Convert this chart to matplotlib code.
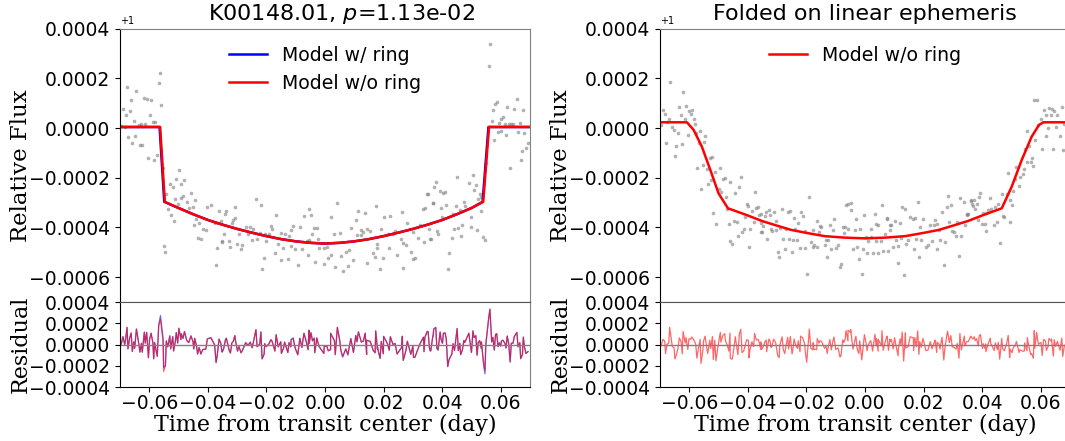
import numpy as np
import matplotlib.pyplot as plt
from matplotlib.ticker import ScalarFormatter

# phase-folded points, (time from transit center [day], flux - 1 [1e-4])
left_pts = [
    (-0.0562, 2.20), (-0.0568, 1.82), (-0.0559, 0.94), (-0.0676, 1.66), (-0.0644, 1.50),
    (-0.0662, 1.13), (-0.0617, 1.21), (-0.0609, 1.18), (-0.0594, 1.11), (-0.0690, 0.78),
    (-0.0667, 0.67), (-0.0681, 0.51), (-0.0599, 0.54), (-0.0653, 0.29), (-0.0636, 0.13),
    (-0.0627, 0.15), (-0.0614, 0.17), (-0.0588, 0.24), (-0.0582, 0.23), (-0.0696, 0.08),
    (-0.0684, 0.05), (-0.0673, -0.37), (-0.0650, -0.32), (-0.0658, -0.62), (-0.0632, -0.67),
    (-0.0624, -0.68), (-0.0573, -1.07), (-0.0603, -1.20), (-0.0585, -1.30), (-0.0553, -1.61),
    (-0.0499, -1.69), (-0.0530, -2.25), (-0.0520, -2.37), (-0.0508, -2.06), (-0.0480, -2.10),
    (-0.0491, -2.25), (-0.0542, -2.66), (-0.0458, -2.62), (-0.0485, -2.72), (-0.0492, -2.80),
    (-0.0511, -2.85), (-0.0503, -3.06), (-0.0472, -2.99), (-0.0445, -2.91), (-0.0537, -3.25),
    (-0.0465, -3.21), (-0.0451, -3.17), (-0.0402, -3.17), (-0.0390, -3.09), (-0.0362, -3.33),
    (-0.0527, -3.49), (-0.0517, -3.74), (-0.0439, -3.65), (-0.0430, -3.84), (-0.0448, -3.90),
    (-0.0417, -4.08), (-0.0407, -4.10), (-0.0377, -3.81), (-0.0352, -4.56), (-0.0435, -4.43),
    (-0.0424, -4.48), (-0.0368, -4.83), (-0.0551, -4.75), (-0.0545, -4.98), (-0.0372, -5.50),
    (-0.0236, -2.85), (-0.0219, -3.11), (-0.0308, -3.19), (-0.0337, -3.34), (-0.0340, -3.47),
    (-0.0313, -3.70), (-0.0318, -3.84), (-0.0306, -3.63), (-0.0356, -3.74), (-0.0167, -3.50),
    (-0.0185, -3.93), (-0.0181, -4.08), (-0.0072, -3.53), (-0.0055, -3.27), (-0.0048, -3.51),
    (-0.0109, -3.93), (-0.0086, -3.98), (-0.0037, -4.02), (-0.0028, -4.01), (-0.0271, -3.97),
    (-0.0255, -3.97), (-0.0245, -4.05), (-0.0346, -4.28), (-0.0294, -4.27), (-0.0263, -4.25),
    (-0.0223, -4.24), (-0.0206, -4.25), (-0.0191, -4.28), (-0.0151, -4.21), (-0.0138, -4.27),
    (-0.0116, -4.09), (-0.0123, -4.35), (-0.0043, -4.27), (-0.0351, -4.59), (-0.0327, -4.54),
    (-0.0299, -4.68), (-0.0283, -4.72), (-0.0249, -4.52), (-0.0232, -4.47), (-0.0201, -4.55),
    (-0.0160, -4.66), (-0.0142, -4.84), (-0.0117, -4.75), (-0.0102, -4.88), (-0.0079, -4.86),
    (-0.0062, -4.56), (-0.0054, -4.51), (-0.0020, -4.84), (-0.0003, -4.82), (-0.0323, -4.78),
    (-0.0287, -4.88), (-0.0208, -5.24), (-0.0171, -5.03), (-0.0149, -5.31), (-0.0127, -5.27),
    (-0.0093, -5.53), (-0.0058, -5.10), (-0.0035, -5.40), (-0.0004, -5.48), (-0.0215, -5.66),
    (-0.0024, -4.48),
    (0.0042, -3.01), (0.0019, -3.58), (0.0173, -3.13), (0.0114, -3.34), (0.0137, -3.42),
    (0.0105, -3.70), (0.0088, -4.01), (0.0032, -4.27), (0.0050, -4.21), (0.0109, -4.29),
    (0.0122, -4.10), (0.0131, -4.17), (0.0142, -4.08), (0.0154, -4.16), (0.0124, -4.29),
    (0.0192, -4.08), (0.0214, -4.28), (0.0239, -4.14), (0.0232, -4.25), (0.0200, -3.58),
    (0.0223, -3.55), (0.0264, -3.39), (0.0281, -3.81), (0.0336, -3.25), (0.0341, -3.23),
    (0.0349, -2.66), (0.0368, -3.03), (0.0324, -3.92), (0.0300, -4.19), (0.0317, -4.44),
    (0.0338, -4.60), (0.0359, -4.45), (0.0261, -4.47), (0.0276, -4.72), (0.0293, -5.00),
    (0.0006, -4.80), (0.0019, -5.12), (0.0011, -5.23), (0.0054, -5.15), (0.0071, -5.00),
    (0.0082, -4.91), (0.0097, -5.31), (0.0078, -5.55), (0.0060, -5.77), (0.0035, -5.58),
    (0.0142, -5.42), (0.0165, -5.02), (0.0171, -5.19), (0.0179, -4.84), (0.0199, -5.22),
    (0.0188, -5.69), (0.0219, -4.83), (0.0246, -5.11), (0.0267, -5.65), (0.0302, -5.26),
    (0.0307, -5.23), (0.0179, -4.66), (0.0265, -4.62),
    (0.0563, 3.37), (0.0559, 2.51), (0.0586, 1.06), (0.0582, 0.97), (0.0573, 0.72),
    (0.0622, 0.84), (0.0655, 1.18), (0.0646, 0.78), (0.0677, 0.74), (0.0607, 0.45),
    (0.0602, 0.35), (0.0595, 0.19), (0.0614, 0.17), (0.0627, 0.16), (0.0636, 0.16),
    (0.0642, 0.17), (0.0665, 0.21), (0.0569, 0.29), (0.0591, -0.16), (0.0600, -0.11),
    (0.0618, -0.28), (0.0659, -0.17), (0.0681, -0.20), (0.0578, -0.48), (0.0693, -0.62),
    (0.0686, -0.80), (0.0674, -0.91), (0.0668, -1.29), (0.0632, -1.60), (0.0549, -1.42),
    (0.0451, -1.96), (0.0505, -1.90), (0.0491, -2.20), (0.0515, -2.29), (0.0509, -2.51),
    (0.0528, -2.67), (0.0534, -2.76), (0.0523, -2.87), (0.0378, -2.17), (0.0371, -2.36),
    (0.0393, -2.55), (0.0410, -2.56), (0.0404, -2.63), (0.0352, -2.67), (0.0369, -3.02),
    (0.0396, -3.22), (0.0414, -3.11), (0.0446, -3.14), (0.0474, -2.98), (0.0477, -3.15),
    (0.0460, -3.30), (0.0437, -3.45), (0.0401, -3.58), (0.0498, -3.58), (0.0533, -3.34),
    (0.0442, -4.06), (0.0455, -4.02), (0.0469, -3.89), (0.0500, -3.97), (0.0519, -4.10),
    (0.0382, -4.16), (0.0386, -4.27), (0.0356, -4.08), (0.0361, -4.45), (0.0433, -4.44),
    (0.0463, -4.35), (0.0541, -4.37), (0.0546, -4.52), (0.0423, -5.04), (0.0419, -5.69),
]

right_pts = [
    (-0.0667, 1.85), (-0.0621, 1.46), (-0.0634, 0.86), (-0.0611, 0.90), (-0.0690, 0.71),
    (-0.0684, 0.56), (-0.0601, 0.68), (-0.0591, 0.71), (-0.0595, 0.55), (-0.0628, 0.51),
    (-0.0614, 0.37), (-0.0670, 0.35), (-0.0676, 0.25), (-0.0585, 0.35), (-0.0582, 0.15),
    (-0.0696, 0.12), (-0.0658, 0.05), (-0.0652, -0.08), (-0.0639, -0.19), (-0.0605, -0.28),
    (-0.0563, -0.12), (-0.0578, -0.21), (-0.0546, -0.32), (-0.0551, -0.58), (-0.0567, -0.62),
    (-0.0681, -0.62), (-0.0644, -0.72), (-0.0624, -0.64), (-0.0649, -1.13), (-0.0530, -1.21),
    (-0.0521, -1.18), (-0.0554, -1.49), (-0.0574, -1.62), (-0.0540, -1.66), (-0.0494, -1.60),
    (-0.0513, -1.78), (-0.0485, -2.04), (-0.0479, -2.00), (-0.0461, -2.17), (-0.0527, -2.10),
    (-0.0537, -2.25), (-0.0424, -1.98), (-0.0560, -2.45), (-0.0500, -2.47), (-0.0492, -2.56),
    (-0.0429, -2.39), (-0.0443, -2.60), (-0.0476, -2.78), (-0.0470, -3.26), (-0.0377, -2.58),
    (-0.0404, -3.05), (-0.0398, -3.13), (-0.0386, -3.33), (-0.0371, -3.22), (-0.0365, -3.19),
    (-0.0518, -3.43), (-0.0509, -3.85), (-0.0465, -3.86), (-0.0448, -3.74), (-0.0437, -3.78),
    (-0.0361, -3.51), (-0.0354, -3.81), (-0.0414, -4.06), (-0.0393, -4.05), (-0.0420, -4.20),
    (-0.0434, -4.33), (-0.0380, -3.79), (-0.0409, -3.57), (-0.0460, -4.56), (-0.0453, -4.67),
    (-0.0396, -4.78), (-0.0356, -4.18),
    (-0.0190, -2.79), (-0.0356, -3.47), (-0.0342, -3.53), (-0.0337, -3.37), (-0.0324, -3.51),
    (-0.0312, -3.38), (-0.0328, -3.31), (-0.0347, -3.93), (-0.0353, -4.19), (-0.0336, -4.48),
    (-0.0322, -4.06), (-0.0319, -4.14), (-0.0305, -3.74), (-0.0303, -4.10), (-0.0283, -3.27),
    (-0.0264, -3.38), (-0.0255, -3.33), (-0.0242, -3.61), (-0.0228, -3.81), (-0.0220, -3.38),
    (-0.0213, -3.54), (-0.0291, -4.04), (-0.0269, -4.05), (-0.0238, -4.08), (-0.0206, -4.16),
    (-0.0279, -4.48), (-0.0261, -4.48), (-0.0246, -4.49), (-0.0231, -4.51), (-0.0298, -4.98),
    (-0.0293, -5.19), (-0.0274, -4.88), (-0.0249, -4.99), (-0.0222, -4.84), (-0.0204, -4.84),
    (-0.0185, -4.60), (-0.0178, -4.78), (-0.0165, -4.78), (-0.0174, -4.71), (-0.0163, -3.74),
    (-0.0177, -4.09), (-0.0157, -4.18), (-0.0149, -4.00), (-0.0154, -3.96), (-0.0133, -4.52),
    (-0.0125, -4.52), (-0.0138, -4.70), (-0.0120, -3.90), (-0.0106, -3.67), (-0.0110, -4.12),
    (-0.0129, -5.20), (-0.0115, -4.87), (-0.0100, -4.84), (-0.0092, -4.71), (-0.0085, -5.58),
    (-0.0082, -5.47), (-0.0199, -5.89), (-0.0076, -3.97), (-0.0068, -3.97), (-0.0058, -4.08),
    (-0.0073, -4.23), (-0.0065, -3.11), (-0.0058, -3.06), (-0.0049, -3.02), (-0.0049, -3.30),
    (-0.0031, -3.65), (-0.0035, -4.10), (-0.0018, -4.08), (-0.0002, -3.51), (-0.0041, -4.86),
    (-0.0027, -4.79), (-0.0021, -5.28), (-0.0007, -4.86), (-0.0011, -5.88),
    (0.0019, -4.06), (0.0034, -3.46), (0.0045, -3.92), (0.0039, -3.88), (0.0058, -3.11),
    (0.0074, -3.65), (0.0076, -3.62), (0.0085, -3.89), (0.0090, -3.92), (0.0101, -3.74),
    (0.0120, -3.82), (0.0127, -3.18), (0.0138, -3.25), (0.0154, -3.58), (0.0165, -3.67),
    (0.0170, -3.63), (0.0180, -2.98), (0.0198, -3.65), (0.0187, -3.97), (0.0239, -3.70),
    (0.0246, -3.88), (0.0254, -4.10), (0.0237, -3.90), (0.0223, -3.90), (0.0263, -3.37),
    (0.0282, -2.74), (0.0293, -3.11), (0.0279, -3.17), (0.0288, -3.79), (0.0298, -4.16),
    (0.0304, -4.17), (0.0311, -4.33), (0.0329, -4.33), (0.0315, -3.77), (0.0324, -2.80),
    (0.0339, -2.99), (0.0349, -3.46), (0.0361, -2.91), (0.0364, -3.05), (0.0004, -4.37),
    (0.0010, -4.55), (0.0022, -4.37), (0.0039, -4.55), (0.0056, -4.54), (0.0068, -4.28),
    (0.0086, -4.12), (0.0106, -4.49), (0.0123, -4.43), (0.0007, -5.02), (0.0026, -5.04),
    (0.0045, -5.04), (0.0062, -4.95), (0.0080, -4.94), (0.0096, -4.80), (0.0114, -4.75),
    (0.0139, -4.68), (0.0148, -4.51), (0.0166, -4.86), (0.0175, -4.48), (0.0192, -4.49),
    (0.0208, -4.78), (0.0215, -4.71), (0.0229, -4.55), (0.0245, -4.87), (0.0272, -4.58),
    (0.0256, -4.51), (0.0113, -5.44), (0.0132, -5.92), (0.0184, -5.18), (0.0269, -5.50),
    (0.0321, -5.14),
    (0.0578, 1.13), (0.0586, 1.11), (0.0610, 0.72), (0.0628, 0.80), (0.0637, 0.75),
    (0.0646, 0.67), (0.0657, 0.52), (0.0672, 0.83), (0.0601, 0.37), (0.0617, 0.54),
    (0.0636, 0.54), (0.0592, 0.11), (0.0625, 0.01), (0.0651, 0.05), (0.0681, 0.16),
    (0.0554, -0.11), (0.0580, -0.49), (0.0619, -0.32), (0.0666, -0.31), (0.0559, -0.74),
    (0.0545, -0.86), (0.0605, -0.83), (0.0643, -0.86), (0.0675, -0.89), (0.0569, -1.22),
    (0.0553, -1.38), (0.0566, -1.38), (0.0575, -1.53), (0.0517, -1.57), (0.0544, -1.65),
    (0.0538, -1.84), (0.0529, -1.96), (0.0513, -2.06), (0.0489, -1.81), (0.0526, -2.32),
    (0.0506, -2.52), (0.0496, -2.91), (0.0502, -3.10), (0.0484, -2.66), (0.0467, -2.66),
    (0.0394, -2.60), (0.0390, -2.76), (0.0373, -2.91), (0.0381, -3.05), (0.0362, -2.93),
    (0.0369, -3.13), (0.0428, -2.80), (0.0455, -3.06), (0.0445, -3.17), (0.0429, -3.27),
    (0.0421, -3.31), (0.0412, -3.41), (0.0404, -3.43), (0.0353, -3.45), (0.0347, -3.51),
    (0.0376, -3.26), (0.0470, -3.54), (0.0476, -3.59), (0.0494, -3.77), (0.0452, -3.77),
    (0.0441, -3.90), (0.0410, -3.86), (0.0401, -3.88), (0.0413, -4.13), (0.0387, -3.70),
    (0.0341, -3.90), (0.0460, -4.64),
]

# models (flux - 1 in 1e-4)
noring_t = [-0.070, -0.0563, -0.0547, -0.050, -0.045, -0.040, -0.035, -0.030, -0.025,
            -0.020, -0.015, -0.010, -0.005, 0.000, 0.005, 0.010, 0.015, 0.020, 0.025,
            0.030, 0.035, 0.040, 0.045, 0.050, 0.0540, 0.0560, 0.070]
noring_f = [0.04, 0.04, -2.97, -3.22, -3.47, -3.70, -3.89, -4.06, -4.21, -4.35, -4.47,
            -4.56, -4.62, -4.65, -4.62, -4.56, -4.47, -4.35, -4.21, -4.06, -3.89, -3.70,
            -3.47, -3.22, -2.97, 0.04, 0.04]
ring_t = [-0.070, -0.0565, -0.0549, -0.050, -0.045, -0.040, -0.035, -0.030, -0.025,
          -0.020, -0.015, -0.010, -0.005, 0.000, 0.005, 0.010, 0.015, 0.020, 0.025,
          0.030, 0.035, 0.040, 0.045, 0.050, 0.0538, 0.0558, 0.070]
ring_f = noring_f
linear_t = [-0.070, -0.0608, -0.0585, -0.0557, -0.0528, -0.0500, -0.0468, -0.040, -0.0352,
            -0.030, -0.0252, -0.020, -0.0138, -0.007, 0.000, 0.007, 0.0138, 0.020, 0.0252,
            0.030, 0.0352, 0.040, 0.0467, 0.0501, 0.0535, 0.0569, 0.0594, 0.0609, 0.070]
linear_f = [0.23, 0.23, -0.08, -0.75, -1.69, -2.63, -3.23, -3.52, -3.74, -3.93, -4.10,
            -4.22, -4.35, -4.41, -4.44, -4.41, -4.35, -4.22, -4.10, -3.93, -3.74, -3.52,
            -3.23, -2.36, -1.29, -0.35, 0.12, 0.23, 0.23]

xticks = [-0.06, -0.04, -0.02, 0.00, 0.02, 0.04, 0.06]
flux_ticks = [4, 2, 0, -2, -4, -6]
res_ticks = [4, 2, 0, -2, -4]

serif = 'DejaVu Serif'
plt.rcParams['font.size'] = 13.5


def draw(x0, pts, models, title, title_x):
    ax = fig.add_axes([x0, 0.3152, 0.385, 0.620])
    axr = fig.add_axes([x0, 0.1224, 0.385, 0.1927], sharex=ax)
    pts = sorted(pts)
    t = np.array([p[0] for p in pts])
    f = np.array([p[1] for p in pts])
    ax.scatter(t, 1 + f * 1e-4, s=7, c='gray', alpha=0.6, linewidths=0, zorder=1)
    for mt, mf, col, lab in models:
        ax.plot(mt, 1 + np.array(mf) * 1e-4, color=col, lw=1.8, label=lab, zorder=2)
        res = f - np.interp(t, mt, mf)
        axr.plot(t, res * 1e-4, color=col, lw=0.9, alpha=0.6)
    axr.axhline(0, color='gray', lw=1)
    ax.set_xlim(-0.07, 0.07)
    ax.set_ylim(1 - 0.0007, 1 + 0.0004)
    ax.set_yticks([1 + v * 1e-4 for v in flux_ticks])
    ax.yaxis.set_major_formatter(ScalarFormatter(useOffset=1.0))
    ax.yaxis.get_offset_text().set_fontsize(7)
    axr.set_ylim(-0.0004, 0.0004)
    axr.set_yticks([v * 1e-4 for v in res_ticks])
    axr.set_xticks(xticks)
    axr.tick_params(axis='x', pad=1.5)
    ax.tick_params(labelbottom=False)
    for a in (ax, axr):
        a.spines['top'].set_color('#808080')
        a.spines['right'].set_color('#808080')
    ax.spines['bottom'].set_color('#555555')
    axr.spines['top'].set_color('#555555')
    ax.set_title(title, fontsize=16, x=title_x)
    ax.legend(loc='upper center', frameon=False, fontsize=13.6)
    ax.set_ylabel('Relative Flux', family=serif, fontsize=16.5, labelpad=-2)
    axr.set_ylabel('Residual', family=serif, fontsize=16, labelpad=-2)
    axr.set_xlabel('Time from transit center (day)', family=serif, fontsize=16,
                   labelpad=0.5)
    return ax, axr


fig = plt.figure(figsize=(10.65, 4.41), dpi=100)
draw(0.1127, left_pts,
     [(ring_t, ring_f, 'blue', 'Model w/ ring'),
      (noring_t, noring_f, 'red', 'Model w/o ring')],
     r'K00148.01, $p$=1.13e-02', 0.54)
draw(0.6197, right_pts,
     [(linear_t, linear_f, 'red', 'Model w/o ring')],
     'Folded on linear ephemeris', 0.5)
fig.savefig('out.png', dpi=100)
